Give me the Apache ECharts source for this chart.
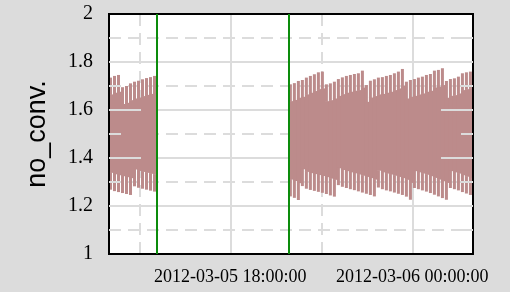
<!DOCTYPE html>
<html lang="en">
<head>
    <meta charset="UTF-8">
    <title>no_conv.</title>
    <script src="https://cdn.jsdelivr.net/npm/echarts@6/dist/echarts.min.js"></script>
    <style>
        html, body { margin: 0; padding: 0; background: #dcdcdc; }
    </style>
</head>
<body>

<div id="main" style="width: 510px;height:292px;"></div>
<script>
    // hours since 2012-03-05 00:00
    var segStart = [14.0, 19.93];
    var colHours = 0.1319;
    var eventTimes = [15.58, 19.93];
    var majorTimes = [18, 24];
    var minorTimes = [15, 21];
    var majorLevels = [1.2, 1.4, 1.6, 1.8];
    var minorLevels = [1.1, 1.3, 1.5, 1.7, 1.9];

    var leftTop = [1.735, 1.742, 1.746, 1.695, 1.700, 1.711, 1.718, 1.722, 1.728, 1.733, 1.737, 1.742];
    var leftLow = [1.268, 1.262, 1.258, 1.254, 1.250, 1.246, 1.282, 1.276, 1.272, 1.268, 1.264, 1.260];

    var rightTop = [1.707, 1.712, 1.721, 1.725, 1.735, 1.742, 1.749, 1.757, 1.760,
        1.707, 1.711, 1.718, 1.729, 1.736, 1.742, 1.746, 1.750, 1.753, 1.764,
        1.704, 1.722, 1.728, 1.735, 1.737, 1.742, 1.746, 1.753, 1.760, 1.771,
        1.718, 1.725, 1.729, 1.735, 1.739, 1.746, 1.750, 1.764, 1.767, 1.774,
        1.721, 1.729, 1.732, 1.739, 1.753, 1.757, 1.760];
    var rightLow = [1.240, 1.234, 1.225,
        1.283, 1.272, 1.267, 1.263, 1.259, 1.255, 1.250, 1.244, 1.239,
        1.287, 1.280, 1.275, 1.270, 1.266, 1.261, 1.256, 1.251, 1.246, 1.240,
        1.277, 1.270, 1.265, 1.261, 1.256, 1.251, 1.246, 1.239, 1.226,
        1.275, 1.270, 1.265, 1.260, 1.254, 1.247, 1.240, 1.233, 1.226,
        1.275, 1.270, 1.265, 1.258, 1.252, 1.246];

    var bands = [];
    [[segStart[0], leftLow, leftTop], [segStart[1], rightLow, rightTop]].forEach(function (seg) {
        for (var i = 0; i < seg[1].length; i++) {
            bands.push([seg[0] + i * colHours, seg[1][i], seg[2][i]]);
        }
    });

    var gridGray = '#dcdcdc';
    var fill = '#bc8b8b';

    function timeLabel(v) {
        var day = 5 + Math.floor(v / 24);
        var h = v % 24;
        return '2012-03-0' + day + ' ' + (h < 10 ? '0' : '') + h + ':00:00';
    }

    function renderBand(params, api) {
        var t = api.value(0), lo = api.value(1), hi = api.value(2);
        var gap = 0.07;
        var pHi = api.coord([t, hi]);
        var pLo = api.coord([t, lo]);
        var x1 = api.coord([t + colHours, hi])[0];
        var yHiIn = api.coord([t, hi - gap])[1];
        var yLoIn = api.coord([t, lo + gap])[1];
        var w = x1 - pHi[0];
        var style = {fill: fill};
        return {
            type: 'group',
            children: [
                {type: 'rect', shape: {x: pHi[0], y: yHiIn, width: w + 0.4, height: yLoIn - yHiIn}, style: style},
                {type: 'rect', shape: {x: pHi[0], y: pHi[1], width: w - 1, height: yHiIn - pHi[1] + 0.5}, style: style},
                {type: 'rect', shape: {x: pHi[0], y: yLoIn - 0.5, width: w - 1, height: pLo[1] - yLoIn + 0.5}, style: style}
            ]
        };
    }

    // y axis drawn above the data: border line plus inside ticks
    function overlayY(pos, levels, len) {
        return {
            type: 'value', min: 1, max: 2, interval: 0.1, position: pos, z: 5,
            axisLine: {show: true, lineStyle: {color: '#000', width: 2}},
            axisTick: {show: true, inside: true, length: len, customValues: levels,
                lineStyle: {color: gridGray, width: 2}},
            axisLabel: {show: false},
            splitLine: {show: false}
        };
    }

    var myChart = echarts.init(document.getElementById('main'));

    myChart.setOption({
        backgroundColor: '#dcdcdc',
        animation: false,
        grid: {
            left: 109, right: 37, top: 14, bottom: 38,
            show: true, backgroundColor: '#fff', borderWidth: 0
        },
        xAxis: [
            {
                type: 'value', min: 14, max: 26, position: 'bottom',
                axisLine: {show: true, onZero: false, lineStyle: {color: '#000', width: 2}},
                axisTick: {show: false, customValues: majorTimes},
                axisLabel: {
                    customValues: majorTimes, margin: 14, formatter: timeLabel,
                    fontFamily: 'Liberation Serif', fontSize: 18, color: '#000'
                },
                splitLine: {show: true, lineStyle: {color: gridGray, width: 2}}
            },
            {
                type: 'value', min: 14, max: 26, position: 'top',
                axisLine: {show: true, onZero: false, lineStyle: {color: '#000', width: 2}},
                axisTick: {show: false, customValues: minorTimes},
                axisLabel: {show: false},
                splitLine: {show: true, lineStyle: {color: gridGray, width: 2, type: [12, 7]}}
            }
        ],
        yAxis: [
            {
                type: 'value', min: 1, max: 2, interval: 0.2, position: 'left',
                name: 'no_conv.', nameLocation: 'middle', nameGap: 58, nameRotate: 90,
                nameTextStyle: {fontFamily: 'Liberation Sans', fontSize: 27, color: '#000'},
                axisLine: {show: true, lineStyle: {color: '#000', width: 2}},
                axisTick: {show: false},
                axisLabel: {margin: 16, fontFamily: 'Liberation Serif', fontSize: 20, color: '#000'},
                minorTick: {show: false, splitNumber: 2},
                splitLine: {show: true, lineStyle: {color: gridGray, width: 2}},
                minorSplitLine: {show: true, lineStyle: {color: gridGray, width: 2, type: [12, 7]}}
            },
            overlayY('left', majorLevels, 32),
            overlayY('left', minorLevels, 12),
            overlayY('right', majorLevels, 32),
            overlayY('right', minorLevels, 12)
        ],
        series: [
            {
                type: 'custom',
                xAxisIndex: 0,
                yAxisIndex: 0,
                clip: true,
                renderItem: renderBand,
                encode: {x: 0, y: [1, 2]},
                data: bands,
                markLine: {
                    silent: true,
                    symbol: ['none', 'none'],
                    label: {show: false},
                    lineStyle: {color: '#0c8c0c', width: 2, type: 'solid'},
                    data: eventTimes.map(function (t) { return {xAxis: t}; })
                }
            }
        ]
    });
</script>
</body>
</html>
